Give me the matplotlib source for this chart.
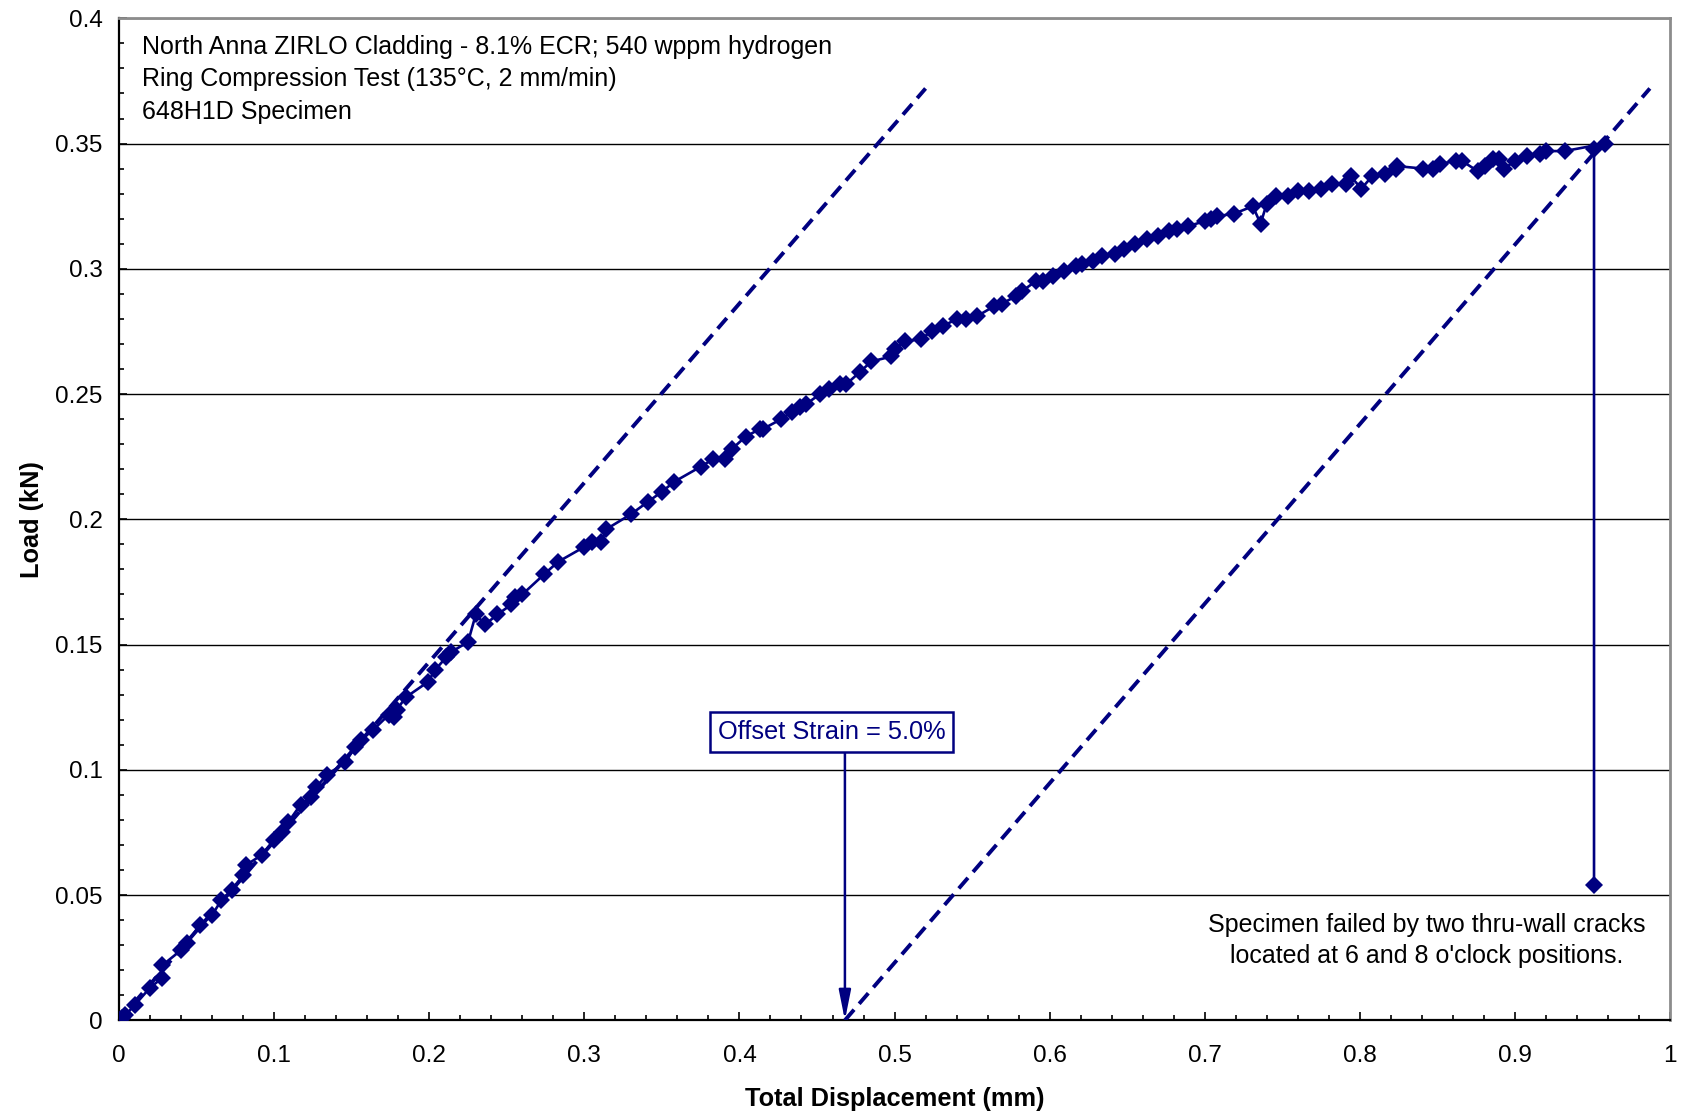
import matplotlib
matplotlib.use('Agg')
import matplotlib.pyplot as plt
from matplotlib.ticker import MultipleLocator, FuncFormatter

plt.rcParams['font.family'] = ['Liberation Sans', 'DejaVu Sans']

NAVY = '#000080'

# measured load-displacement points (mm, kN)
disp = [0.000, 0.002, 0.004, 0.010, 0.020, 0.028, 0.028, 0.040, 0.044, 0.052,
        0.060, 0.066, 0.073, 0.080, 0.082, 0.092, 0.100, 0.105, 0.109, 0.117,
        0.124, 0.127, 0.134, 0.146, 0.152, 0.156, 0.164, 0.174, 0.177, 0.179,
        0.185, 0.199, 0.204, 0.211, 0.214, 0.225, 0.230, 0.236, 0.244, 0.253,
        0.255, 0.260, 0.274, 0.283, 0.300, 0.305, 0.311, 0.314, 0.330, 0.341,
        0.350, 0.358, 0.375, 0.383, 0.391, 0.395, 0.404, 0.413, 0.415, 0.427,
        0.434, 0.439, 0.443, 0.452, 0.458, 0.465, 0.469, 0.478, 0.485, 0.498,
        0.500, 0.507, 0.517, 0.524, 0.531, 0.540, 0.546, 0.553, 0.564, 0.569,
        0.578, 0.582, 0.591, 0.596, 0.602, 0.609, 0.617, 0.621, 0.628, 0.634,
        0.642, 0.648, 0.655, 0.663, 0.670, 0.677, 0.682, 0.689, 0.700, 0.704,
        0.708, 0.719, 0.731, 0.736, 0.740, 0.746, 0.754, 0.760, 0.767, 0.775,
        0.782, 0.791, 0.794, 0.801, 0.808, 0.816, 0.823, 0.824, 0.841, 0.847,
        0.852, 0.862, 0.866, 0.876, 0.881, 0.886, 0.890, 0.893, 0.900, 0.908,
        0.916, 0.920, 0.932, 0.958, 0.951, 0.951]
load = [0.000, 0.001, 0.002, 0.006, 0.013, 0.017, 0.022, 0.028, 0.031, 0.038,
        0.042, 0.048, 0.052, 0.058, 0.062, 0.066, 0.072, 0.075, 0.079, 0.086,
        0.089, 0.093, 0.098, 0.103, 0.109, 0.112, 0.116, 0.122, 0.121, 0.124,
        0.129, 0.135, 0.140, 0.145, 0.147, 0.151, 0.162, 0.158, 0.162, 0.166,
        0.169, 0.170, 0.178, 0.183, 0.189, 0.191, 0.191, 0.196, 0.202, 0.207,
        0.211, 0.215, 0.221, 0.224, 0.224, 0.228, 0.233, 0.236, 0.236, 0.240,
        0.243, 0.245, 0.246, 0.250, 0.252, 0.254, 0.254, 0.259, 0.263, 0.265,
        0.268, 0.271, 0.272, 0.275, 0.277, 0.280, 0.280, 0.281, 0.285, 0.286,
        0.289, 0.291, 0.295, 0.295, 0.297, 0.299, 0.301, 0.302, 0.303, 0.305,
        0.306, 0.308, 0.310, 0.312, 0.313, 0.315, 0.316, 0.317, 0.319, 0.320,
        0.321, 0.322, 0.325, 0.318, 0.326, 0.329, 0.329, 0.331, 0.331, 0.332,
        0.334, 0.334, 0.337, 0.332, 0.337, 0.338, 0.340, 0.341, 0.340, 0.340,
        0.342, 0.343, 0.343, 0.339, 0.341, 0.344, 0.344, 0.340, 0.343, 0.345,
        0.346, 0.347, 0.347, 0.350, 0.348, 0.054]

# elastic and 5% offset lines (start/end points)
elastic_x = [0.0, 0.520]
elastic_y = [0.0, 0.372]
offset_x = [0.468, 0.987]
offset_y = [0.0, 0.372]

x_ticks = [0, 0.1, 0.2, 0.3, 0.4, 0.5, 0.6, 0.7, 0.8, 0.9, 1.0]
y_ticks = [0, 0.05, 0.1, 0.15, 0.2, 0.25, 0.3, 0.35, 0.4]

fig = plt.figure(figsize=(16.84, 11.17), dpi=100)
ax = fig.add_axes([0.0707, 0.0866, 0.9210, 0.8970])

ax.plot(elastic_x, elastic_y, color=NAVY, lw=2.8, ls=(0, (3.6, 2.0)), zorder=3)
ax.plot(offset_x, offset_y, color=NAVY, lw=2.8, ls=(0, (3.6, 2.0)), zorder=3)
ax.plot(disp, load, color=NAVY, lw=1.9, marker='D', markersize=9,
        markeredgewidth=0, zorder=4)

ax.set_xlim(0, 1)
ax.set_ylim(0, 0.4)
ax.set_xticks(x_ticks)
ax.set_yticks(y_ticks)
ax.xaxis.set_minor_locator(MultipleLocator(0.02))
ax.yaxis.set_minor_locator(MultipleLocator(0.01))
fmt = FuncFormatter(lambda v, p: '{:g}'.format(round(v, 3)))
ax.xaxis.set_major_formatter(fmt)
ax.yaxis.set_major_formatter(fmt)
ax.tick_params(which='both', direction='in', labelsize=17.5, width=1.2)
ax.tick_params(which='major', length=6)
ax.tick_params(which='minor', length=3.5)
ax.tick_params(axis='x', pad=18)
ax.tick_params(axis='y', pad=12)

ax.grid(axis='y', which='major', color='black', lw=1.0)
ax.set_axisbelow(True)

for s in ['left', 'bottom']:
    ax.spines[s].set_linewidth(1.6)
    ax.spines[s].set_color('black')
for s in ['top', 'right']:
    ax.spines[s].set_linewidth(2.0)
    ax.spines[s].set_color('#8c8c8c')

ax.set_xlabel('Total Displacement (mm)', fontsize=18.3, fontweight='bold',
              labelpad=14)
ax.set_ylabel('Load (kN)', fontsize=18.3, fontweight='bold', labelpad=8)

ax.text(0.0145, 0.3935,
        'North Anna ZIRLO Cladding - 8.1% ECR; 540 wppm hydrogen\n'
        'Ring Compression Test (135\u00b0C, 2 mm/min)\n'
        '648H1D Specimen',
        fontsize=18, va='top', ha='left', linespacing=1.45)

ax.text(0.843, 0.0317,
        'Specimen failed by two thru-wall cracks\n'
        'located at 6 and 8 o\'clock positions.',
        fontsize=18, va='center', ha='center', linespacing=1.37)

ax.annotate('', xy=(0.468, 0.0), xytext=(0.468, 0.107),
            arrowprops=dict(arrowstyle='-|>,head_length=0.9,head_width=0.18',
                            color=NAVY, lw=1.8, mutation_scale=20,
                            shrinkA=0, shrinkB=0), zorder=5)
ax.text(0.4596, 0.1151, 'Offset Strain = 5.0%', fontsize=18.3, color=NAVY,
        ha='center', va='center', zorder=6,
        bbox=dict(boxstyle='square,pad=0.3', facecolor='white',
                  edgecolor=NAVY, lw=1.8))

fig.savefig('out.png', dpi=100)
